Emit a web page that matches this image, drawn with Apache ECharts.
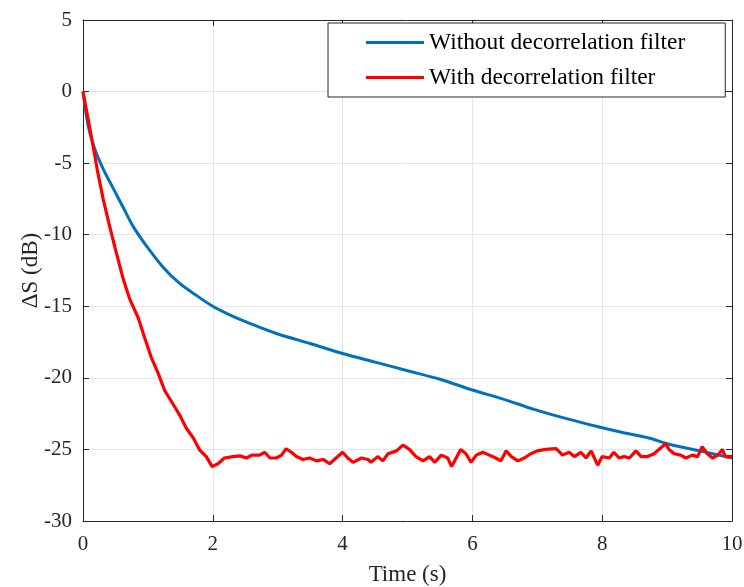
<!DOCTYPE html>
<html>
<head>
<meta charset="utf-8">
<script src="https://cdn.jsdelivr.net/npm/echarts@6/dist/echarts.min.js"></script>
<style>html,body{margin:0;padding:0;background:#fff;}#chart{width:744px;height:587px;}</style>
</head>
<body>
<div id="chart"></div>
<script>
var seriesNames = ['Without decorrelation filter', 'With decorrelation filter'];
var xTicks = [0, 2, 4, 6, 8, 10];
var yTicks = [-30, -25, -20, -15, -10, -5, 0, 5];

var blueTime = [0, 0.08, 0.18, 0.31, 0.47, 0.62, 0.77, 0.98, 1.24, 1.49, 1.75, 2.0, 2.26, 2.57, 2.98, 3.5, 4.0, 4.5, 5.0, 5.5, 6.0, 6.45, 6.95, 7.45, 7.92, 8.3, 8.72, 9.0, 9.4, 9.7, 10.0];
var blueVals = [0, -2.4, -4.0, -5.4, -6.8, -8.1, -9.4, -10.8, -12.3, -13.4, -14.25, -15.0, -15.6, -16.2, -16.9, -17.6, -18.3, -18.9, -19.5, -20.1, -20.85, -21.45, -22.2, -22.85, -23.4, -23.8, -24.2, -24.6, -25.0, -25.3, -25.6];

var redTime = [0, 0.08, 0.155, 0.23, 0.31, 0.41, 0.51, 0.62, 0.72, 0.85, 0.95, 1.05, 1.16, 1.26, 1.41, 1.49, 1.59, 1.70, 1.80, 1.90, 1.99, 2.08, 2.18, 2.31, 2.42, 2.52, 2.60, 2.72, 2.80, 2.88, 2.98, 3.06, 3.13, 3.21, 3.29, 3.39, 3.49, 3.60, 3.70, 3.80, 3.90, 4.00, 4.08, 4.16, 4.29, 4.39, 4.44, 4.54, 4.62, 4.70, 4.83, 4.93, 5.03, 5.13, 5.24, 5.34, 5.42, 5.52, 5.62, 5.68, 5.75, 5.82, 5.90, 5.98, 6.06, 6.16, 6.26, 6.36, 6.44, 6.52, 6.60, 6.70, 6.80, 6.90, 7.00, 7.13, 7.29, 7.39, 7.49, 7.57, 7.67, 7.75, 7.83, 7.88, 7.93, 8.00, 8.11, 8.18, 8.26, 8.34, 8.42, 8.52, 8.60, 8.70, 8.80, 8.90, 8.98, 9.03, 9.11, 9.21, 9.29, 9.39, 9.47, 9.54, 9.62, 9.70, 9.78, 9.85, 9.90, 10.0];
var redVals = [0, -1.95, -3.8, -5.7, -7.5, -9.4, -11.2, -13.1, -14.5, -15.8, -17.2, -18.55, -19.7, -20.9, -22.0, -22.6, -23.5, -24.2, -25.05, -25.5, -26.2, -26.0, -25.6, -25.5, -25.45, -25.6, -25.4, -25.4, -25.2, -25.6, -25.6, -25.4, -24.95, -25.2, -25.5, -25.7, -25.6, -25.8, -25.7, -26.0, -25.6, -25.2, -25.6, -25.9, -25.6, -25.7, -25.9, -25.5, -25.8, -25.3, -25.1, -24.7, -25.0, -25.5, -25.8, -25.5, -25.9, -25.4, -25.6, -26.2, -25.6, -25.0, -25.3, -25.9, -25.4, -25.2, -25.4, -25.6, -25.8, -25.1, -25.5, -25.8, -25.6, -25.3, -25.1, -25.0, -24.95, -25.4, -25.2, -25.5, -25.2, -25.6, -25.1, -25.6, -26.1, -25.5, -25.6, -25.2, -25.6, -25.5, -25.6, -25.1, -25.5, -25.5, -25.3, -24.9, -24.6, -25.0, -25.3, -25.4, -25.6, -25.4, -25.5, -24.8, -25.3, -25.6, -25.4, -25.0, -25.5, -25.5];

function pairs(t, v) { return t.map(function (x, i) { return [x, v[i]]; }); }

var font = 'Liberation Serif, Times New Roman, serif';
var axisColor = '#262626';
var chart = echarts.init(document.getElementById('chart'));
chart.setOption({
  animation: false,
  backgroundColor: '#fff',
  grid: { left: 83, right: 12, top: 20, bottom: 66, containLabel: false, outerBoundsMode: 'none' },
  legend: {
    left: 328, top: 23,
    orient: 'vertical',
    padding: [8, 40, 8, 38],
    itemGap: 12,
    itemWidth: 58, itemHeight: 3,
    icon: 'rect',
    backgroundColor: '#fff',
    borderColor: '#262626', borderWidth: 1,
    textStyle: { fontFamily: font, fontSize: 23.4, color: '#000', padding: [0, 0, 0, 0] },
    data: seriesNames
  },
  xAxis: [{
    type: 'value', min: xTicks[0], max: xTicks[xTicks.length - 1], interval: 2,
    name: 'Time (s)', nameLocation: 'middle', nameGap: 42, nameMoveOverlap: false,
    nameTextStyle: { fontFamily: font, fontSize: 23, color: '#262626' },
    axisLine: { show: true, onZero: false, lineStyle: { color: axisColor, width: 1 } },
    axisTick: { show: true, inside: true, length: 6, lineStyle: { color: axisColor } },
    axisLabel: { fontFamily: font, fontSize: 21, color: '#262626', margin: 13 },
    splitLine: { show: true, lineStyle: { color: '#e5e5e5', width: 1 } }
  }, {
    type: 'value', position: 'top', min: xTicks[0], max: xTicks[xTicks.length - 1], interval: 2,
    axisLine: { show: true, onZero: false, lineStyle: { color: axisColor, width: 1 } },
    axisTick: { show: true, inside: true, length: 6, lineStyle: { color: axisColor } },
    axisLabel: { show: false }, splitLine: { show: false }
  }],
  yAxis: [{
    type: 'value', min: yTicks[0], max: yTicks[yTicks.length - 1], interval: 5,
    name: 'ΔS (dB)', nameLocation: 'middle', nameGap: 41, nameRotate: 90, nameMoveOverlap: false,
    nameTextStyle: { fontFamily: font, fontSize: 23, color: '#262626' },
    axisLine: { show: true, onZero: false, lineStyle: { color: axisColor, width: 1 } },
    axisTick: { show: true, inside: true, length: 6, lineStyle: { color: axisColor } },
    axisLabel: { fontFamily: font, fontSize: 21, color: '#262626', margin: 11 },
    splitLine: { show: true, lineStyle: { color: '#e5e5e5', width: 1 } }
  }, {
    type: 'value', position: 'right', min: yTicks[0], max: yTicks[yTicks.length - 1], interval: 5,
    axisLine: { show: true, onZero: false, lineStyle: { color: axisColor, width: 1 } },
    axisTick: { show: true, inside: true, length: 6, lineStyle: { color: axisColor } },
    axisLabel: { show: false }, splitLine: { show: false }
  }],
  series: [{
    name: seriesNames[0], type: 'line', xAxisIndex: 0, yAxisIndex: 0,
    data: pairs(blueTime, blueVals), showSymbol: false, symbol: 'none', smooth: 0.3,
    lineStyle: { color: '#0072BD', width: 3 }, itemStyle: { color: '#0072BD' }, z: 3
  }, {
    name: seriesNames[1], type: 'line', xAxisIndex: 0, yAxisIndex: 0,
    data: pairs(redTime, redVals), showSymbol: false, symbol: 'none', smooth: false,
    lineStyle: { color: '#FF0000', width: 3.2 }, itemStyle: { color: '#FF0000' }, z: 4
  }]
});
</script>
</body>
</html>
